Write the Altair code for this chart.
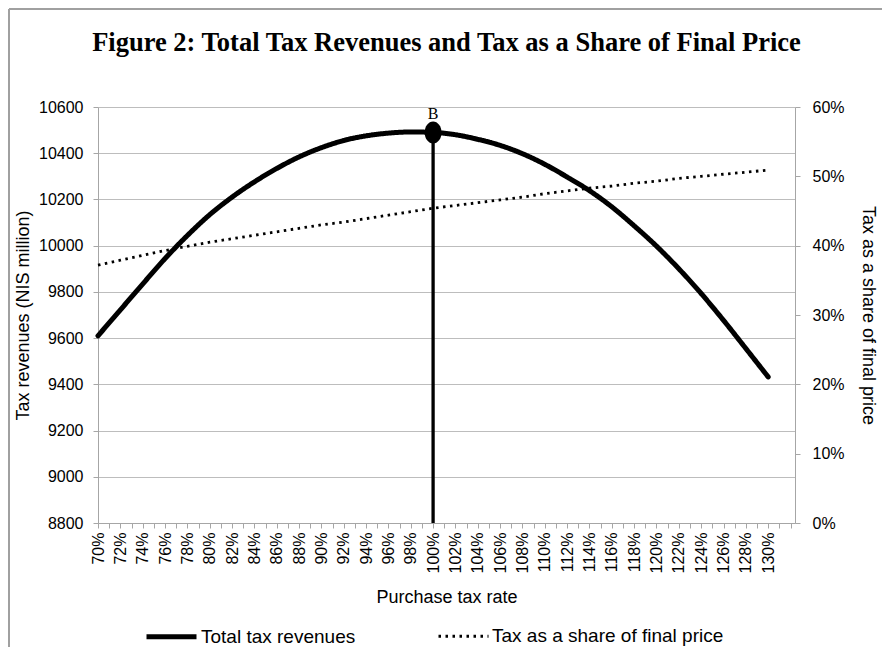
import altair as alt
import pandas as pd

# ---- data ----
rate = [70, 72, 74, 76, 78, 80, 82, 84, 86, 88, 90, 92, 94, 96, 98, 100,
        102, 104, 106, 108, 110, 112, 114, 116, 118, 120, 122, 124, 126, 128, 130]
revenue = [9610, 9722, 9834, 9944, 10044, 10134, 10210, 10276, 10334, 10384,
           10424, 10455, 10475, 10487, 10492, 10490, 10480, 10460, 10434, 10398,
           10352, 10297, 10238, 10168, 10086, 9998, 9900, 9793, 9677, 9555, 9432]
share = [0.372, 0.379, 0.386, 0.393, 0.399, 0.405, 0.410, 0.415, 0.420, 0.425,
         0.430, 0.434, 0.439, 0.444, 0.449, 0.454, 0.458, 0.462, 0.466, 0.470,
         0.475, 0.479, 0.483, 0.486, 0.490, 0.493, 0.497, 0.500, 0.503, 0.506, 0.509]
series_names = ["Total tax revenues", "Tax as a share of final price"]

x_ticks = list(range(70, 133))
y_left_ticks = [8800, 9000, 9200, 9400, 9600, 9800, 10000, 10200, 10400, 10600]
y_right_ticks = [0, 0.1, 0.2, 0.3, 0.4, 0.5, 0.6]

point_rate = [100]
point_revenue = [10490]
point_label = ["B"]

rev_df = pd.DataFrame({"rate": rate, "revenue": revenue, "series": series_names[0]})
share_df = pd.DataFrame({"rate": rate, "share": share, "series": series_names[1]})
pt_df = pd.DataFrame({"rate": point_rate, "revenue": point_revenue, "label": point_label})

AXIS_GRAY = "#a6a6a6"
FONT = "Liberation Sans"

x_scale = alt.Scale(domain=[70, 132.4], nice=False, zero=False)
x_enc = alt.X(
    "rate:Q",
    scale=x_scale,
    axis=alt.Axis(
        values=x_ticks,
        labelExpr="datum.value % 2 == 0 && datum.value <= 130 ? datum.value + '%' : ''",
        labelAngle=270,
        labelAlign="right",
        labelBaseline="middle",
        labelOverlap=False,
        labelFlush=False,
        labelPadding=4,
        title="Purchase tax rate",
        titlePadding=16,
        grid=False,
        tickSize=5,
        domainColor=AXIS_GRAY,
        tickColor=AXIS_GRAY,
    ),
)

y_left_scale = alt.Scale(domain=[8800, 10600], nice=False, zero=False)
y_left = alt.Y(
    "revenue:Q",
    scale=y_left_scale,
    axis=alt.Axis(
        values=y_left_ticks,
        format="d",
        title="Tax revenues (NIS million)",
        titlePadding=6,
        grid=True,
        gridColor="#bdbdbd",
        gridWidth=1,
        tickSize=5,
        labelPadding=10,
        domainColor=AXIS_GRAY,
        tickColor=AXIS_GRAY,
    ),
)

dash_scale = alt.Scale(domain=series_names, range=[[1, 0], [2.5, 4.5]])
width_scale = alt.Scale(domain=series_names, range=[5, 2.8])
legend = alt.Legend(
    orient="none",
    legendX=46,
    legendY=502,
    direction="horizontal",
    title=None,
    symbolType="stroke",
    symbolSize=2500,
    symbolStrokeColor="black",
    labelFontSize=19,
    labelFont=FONT,
    labelColor="black",
    columnPadding=76,
    labelOffset=2,
    labelLimit=400,
)

rev_line = alt.Chart(rev_df).mark_line(
    color="black", interpolate="monotone", strokeCap="round", strokeJoin="round"
).encode(
    x=x_enc,
    y=y_left,
    strokeDash=alt.StrokeDash("series:N", scale=dash_scale, legend=legend),
    strokeWidth=alt.StrokeWidth("series:N", scale=width_scale, legend=legend),
)

vline = alt.Chart(pt_df).mark_rule(color="black", strokeWidth=3.3).encode(
    x=x_enc,
    y=y_left,
    y2=alt.datum(8800),
)

ellipse_path = "M -0.77,0 A 0.77,1 0 1,1 0.77,0 A 0.77,1 0 1,1 -0.77,0 Z"
dot = alt.Chart(pt_df).mark_point(
    shape=ellipse_path, size=484, filled=True, color="black", opacity=1
).encode(x=x_enc, y=y_left)

blabel = alt.Chart(pt_df).mark_text(
    font="Liberation Serif", fontSize=16, baseline="bottom", dy=-10, color="black"
).encode(x=x_enc, y=y_left, text="label:N")

left_layer = alt.layer(rev_line, vline, dot, blabel)

share_line = alt.Chart(share_df).mark_line(color="black").encode(
    x=x_enc,
    y=alt.Y(
        "share:Q",
        scale=alt.Scale(domain=[0, 0.6], nice=False),
        axis=alt.Axis(
            orient="right",
            values=y_right_ticks,
            format=".0%",
            title="Tax as a share of final price",
            titlePadding=14,
            grid=False,
            tickSize=5,
            labelPadding=12,
            domainColor=AXIS_GRAY,
            tickColor=AXIS_GRAY,
        ),
    ),
    strokeDash=alt.StrokeDash("series:N", scale=dash_scale, legend=legend),
    strokeWidth=alt.StrokeWidth("series:N", scale=width_scale, legend=legend),
)

# decorative frame (left and top edges of the figure box)
frame_left = alt.Chart(pt_df).mark_rule(color="#a0a0a0", strokeWidth=2).encode(
    x=alt.value(-89), y=alt.value(-98), y2=alt.value(560)
)
frame_top = alt.Chart(pt_df).mark_rule(color="#a0a0a0", strokeWidth=2).encode(
    x=alt.value(-89), x2=alt.value(786), y=alt.value(-98)
)

chart = (
    alt.layer(left_layer, share_line, frame_left, frame_top)
    .resolve_scale(y="independent")
    .properties(
        width=697,
        height=416,
        autosize=alt.AutoSizeParams(type="none"),
        padding={"left": 90, "top": 99, "right": 87, "bottom": 124},
        title=alt.Title(
            "Figure 2: Total Tax Revenues and Tax as a Share of Final Price",
            font="Liberation Serif",
            fontSize=26.5,
            fontWeight="bold",
            color="black",
            anchor="middle",
            offset=0,
            dy=48,
        ),
    )
    .configure_view(stroke=None)
    .configure_axis(
        labelFont=FONT,
        labelFontSize=16,
        labelColor="black",
        titleFont=FONT,
        titleFontSize=18,
        titleFontWeight="normal",
        titleColor="black",
    )
)

chart.save("out.html", embed_options={"renderer": "svg", "actions": False})
